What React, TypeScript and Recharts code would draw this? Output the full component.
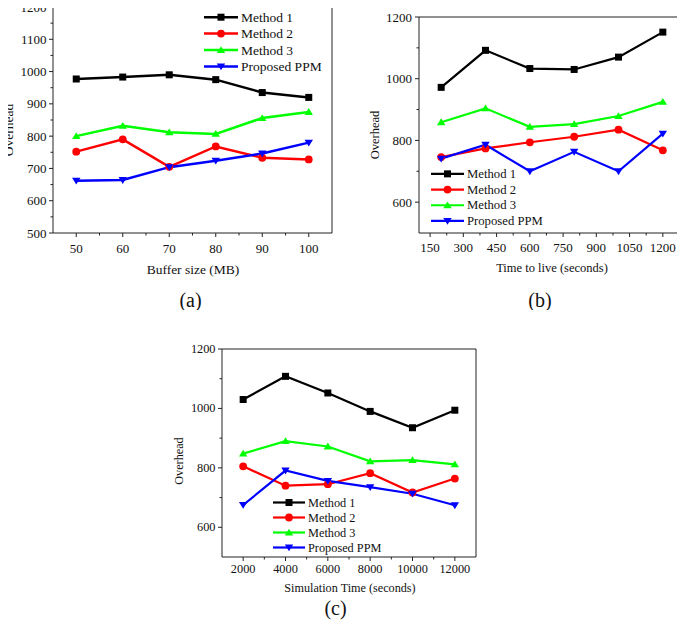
import React from "react";
import { LineChart, Line, XAxis, YAxis, Legend, ReferenceLine } from "recharts";

const FONT = "'Liberation Serif', 'Times New Roman', Times, serif";
const TXT = { fontFamily: FONT };

// shared series info
const seriesNames = ["Method 1", "Method 2", "Method 3", "Proposed PPM"];
const seriesKeys = ["m1", "m2", "m3", "ppm"];
const seriesColors = ["#000000", "#ff0000", "#00ff00", "#0000ff"];
const seriesShapes = ["square", "circle", "up", "down"];

// (a) buffer size
const bufferSizes = [50, 60, 70, 80, 90, 100];
const bufM1 = [977, 983, 990, 975, 935, 920];
const bufM2 = [752, 790, 705, 768, 733, 728];
const bufM3 = [800, 832, 812, 807, 856, 875];
const bufPPM = [662, 664, 704, 724, 746, 780];
const bufXMajor = [50, 60, 70, 80, 90, 100];
const bufXMinor = [55, 65, 75, 85, 95];
const bufYMajor = [500, 600, 700, 800, 900, 1000, 1100, 1200];
const bufYMinor = [550, 650, 750, 850, 950, 1050, 1150];

// (b) time to live
const ttlValues = [200, 400, 600, 800, 1000, 1200];
const ttlM1 = [972, 1092, 1033, 1030, 1070, 1151];
const ttlM2 = [746, 774, 794, 812, 835, 768];
const ttlM3 = [859, 904, 844, 853, 879, 925];
const ttlPPM = [741, 786, 700, 763, 700, 822];
const ttlXMajor = [150, 300, 450, 600, 750, 900, 1050, 1200];
const ttlXMinor = [225, 375, 525, 675, 825, 975, 1125, 1275];
const ttlYMajor = [600, 800, 1000, 1200];
const ttlYMinor = [700, 900, 1100];

// (c) simulation time
const simTimes = [2000, 4000, 6000, 8000, 10000, 12000];
const simM1 = [1030, 1108, 1052, 990, 935, 994];
const simM2 = [805, 740, 745, 782, 717, 764];
const simM3 = [848, 890, 872, 822, 826, 812];
const simPPM = [675, 791, 756, 735, 713, 674];
const simXMajor = [2000, 4000, 6000, 8000, 10000, 12000];
const simXMinor = [3000, 5000, 7000, 9000, 11000];
const simYMajor = [600, 800, 1000, 1200];
const simYMinor = [700, 900, 1100];

const AXIS_W = 40;
const AXIS_H = 30;

function Marker({ cx, cy, shape, color, size }: any) {
  const h = size / 2;
  if (shape === "square") return <rect x={cx - h} y={cy - h} width={size} height={size} fill={color} />;
  if (shape === "circle") return <circle cx={cx} cy={cy} r={h + 0.4} fill={color} />;
  const w = h * 1.2;
  if (shape === "up")
    return <polygon points={`${cx},${cy - h * 1.1} ${cx + w},${cy + h * 0.85} ${cx - w},${cy + h * 0.85}`} fill={color} />;
  return <polygon points={`${cx},${cy + h * 1.1} ${cx + w},${cy - h * 0.85} ${cx - w},${cy - h * 0.85}`} fill={color} />;
}

function Panel({ p }: { p: any }) {
  const data = p.xs.map((x: number, i: number) => ({
    x,
    m1: p.values[0][i],
    m2: p.values[1][i],
    m3: p.values[2][i],
    ppm: p.values[3][i],
  }));
  const xTicks = [...p.xMajor, ...p.xMinor].sort((a, b) => a - b);
  const yTicks = [...p.yMajor, ...p.yMinor].sort((a, b) => a - b);
  const pl = p.plot; // plot box offsets inside the chart
  const margin = { top: pl.top, right: pl.right, bottom: pl.bottom - AXIS_H, left: pl.left - AXIS_W };
  const plotBottom = p.pos.height - pl.bottom;

  const xTick = (t: any) => {
    const major = p.xMajor.includes(t.payload.value);
    const x = t.payload.coordinate ?? t.x;
    return (
      <g key={`xt-${t.payload.value}`}>
        <line x1={x} x2={x} y1={plotBottom} y2={plotBottom + (major ? 4 : 2.5)} stroke="#222" strokeWidth={1} />
        {major && (
          <text x={x} y={plotBottom + p.xTickGap} textAnchor="middle" dominantBaseline="central"
            fontSize={p.tickFont} style={TXT} fill="#111">
            {t.payload.value}
          </text>
        )}
      </g>
    );
  };
  const yTick = (t: any) => {
    const major = p.yMajor.includes(t.payload.value);
    const y = t.payload.coordinate ?? t.y;
    return (
      <g key={`yt-${t.payload.value}`}>
        <line x1={pl.left} x2={pl.left - (major ? 4 : 2.5)} y1={y} y2={y} stroke="#222" strokeWidth={1} />
        {major && (
          <text x={pl.left - p.yTickGap} y={y} textAnchor="end" dominantBaseline="central"
            fontSize={p.tickFont} style={TXT} fill="#111">
            {t.payload.value}
          </text>
        )}
      </g>
    );
  };

  const xTitle = () => (
    <g>
      <text x={p.xTitleX} y={plotBottom + p.xTitleGap} textAnchor="middle" dominantBaseline="central"
        fontSize={p.titleFont} style={TXT} fill="#111">
        {p.xTitle}
      </text>
      <text x={p.captionX} y={p.captionY} textAnchor="middle" dominantBaseline="central"
        fontSize={20} style={TXT} fill="#111">
        {p.caption}
      </text>
    </g>
  );
  const yTitle = () => (
    <text x={p.yTitleX} y={p.yTitleY} textAnchor="middle" dominantBaseline="central"
      transform={`rotate(-90 ${p.yTitleX} ${p.yTitleY})`}
      fontSize={p.titleFont} style={TXT} fill="#111">
      Overhead
    </text>
  );

  const legendContent = (props: any) => {
    const items = props.payload || [];
    const lg = p.legend;
    return (
      <svg width={170} height={lg.rowH * 4} style={{ display: "block" }}>
        {items.map((it: any, i: number) => {
          const k = seriesKeys.indexOf(it.dataKey);
          const cy = lg.rowH * (i + 0.5);
          return (
            <g key={it.value}>
              <line x1={0} x2={lg.lineW} y1={cy} y2={cy} stroke={it.color} strokeWidth={p.strokeWidth} />
              <Marker cx={lg.lineW / 2} cy={cy} shape={seriesShapes[k]} color={it.color} size={7} />
              <text x={lg.lineW + 3} y={cy} dominantBaseline="central" fontSize={p.legendFont}
                style={TXT} fill="#111">
                {it.value}
              </text>
            </g>
          );
        })}
      </svg>
    );
  };

  return (
    <div style={{ position: "absolute", left: p.pos.left, top: p.pos.top }}>
      <LineChart width={p.pos.width} height={p.pos.height} data={data} margin={margin}>
        <XAxis dataKey="x" type="number" domain={p.xDomain} ticks={xTicks} interval={0}
          height={AXIS_H} tickSize={0} tickMargin={0} tickLine={false}
          axisLine={{ stroke: "#222", strokeWidth: 1 }} tick={xTick} label={xTitle} />
        <YAxis type="number" domain={p.yDomain} ticks={yTicks} interval={0}
          width={AXIS_W} tickSize={0} tickMargin={0} tickLine={false}
          axisLine={{ stroke: "#222", strokeWidth: 1 }} tick={yTick} label={yTitle} />
        <ReferenceLine y={p.yDomain[1]} stroke="#222" strokeWidth={1} ifOverflow="visible" />
        <ReferenceLine x={p.xDomain[1]} stroke="#222" strokeWidth={1} ifOverflow="visible" />
        <Legend layout="vertical" align="center" verticalAlign="middle" content={legendContent}
          wrapperStyle={{ left: p.legend.left, top: p.legend.top, width: 170 }} />
        {seriesKeys.map((k, i) => (
          <Line key={k} dataKey={k} name={seriesNames[i]} stroke={seriesColors[i]}
            strokeWidth={p.strokeWidth} isAnimationActive={false} activeDot={false}
            dot={(d: any) => (
              <Marker key={`${k}-${d.index}`} cx={d.cx} cy={d.cy} shape={seriesShapes[i]}
                color={seriesColors[i]} size={7} />
            )} />
        ))}
      </LineChart>
    </div>
  );
}

const panelA = {
  pos: { left: 0, top: 0, width: 345, height: 310 },
  plot: { top: 7, right: 13, bottom: 77, left: 53 },
  xs: bufferSizes,
  values: [bufM1, bufM2, bufM3, bufPPM],
  xDomain: [45, 105], xMajor: bufXMajor, xMinor: bufXMinor,
  yDomain: [500, 1200], yMajor: bufYMajor, yMinor: bufYMinor,
  xTitle: "Buffer size (MB)", caption: "(a)",
  tickFont: 13, titleFont: 13.5, legendFont: 13.5,
  xTickGap: 15, yTickGap: 6.5, xTitleGap: 36, xTitleX: 193,
  yTitleX: 8, yTitleY: 130, captionX: 190.5, captionY: 300,
  legend: { left: 204, top: 8.8, rowH: 16.4, lineW: 34 },
  strokeWidth: 2.5,
};

const panelB = {
  pos: { left: 345, top: 0, width: 345, height: 310 },
  plot: { top: 17, right: 5, bottom: 77, left: 74 },
  xs: ttlValues,
  values: [ttlM1, ttlM2, ttlM3, ttlPPM],
  xDomain: [100, 1300], xMajor: ttlXMajor, xMinor: ttlXMinor,
  yDomain: [500, 1200], yMajor: ttlYMajor, yMinor: ttlYMinor,
  xTitle: "Time to live (seconds)", caption: "(b)",
  tickFont: 13, titleFont: 12.5, legendFont: 12.7,
  xTickGap: 14, yTickGap: 7, xTitleGap: 35, xTitleX: 207,
  yTitleX: 30, yTitleY: 135, captionX: 195, captionY: 300,
  legend: { left: 86, top: 166, rowH: 15.7, lineW: 33 },
  strokeWidth: 2.2,
};

const panelC = {
  pos: { left: 160, top: 330, width: 340, height: 299 },
  plot: { top: 19, right: 24, bottom: 72, left: 62 },
  xs: simTimes,
  values: [simM1, simM2, simM3, simPPM],
  xDomain: [1000, 13000], xMajor: simXMajor, xMinor: simXMinor,
  yDomain: [500, 1200], yMajor: simYMajor, yMinor: simYMinor,
  xTitle: "Simulation Time (seconds)", caption: "(c)",
  tickFont: 12.3, titleFont: 12.2, legendFont: 12.3,
  xTickGap: 12, yTickGap: 6.5, xTitleGap: 31, xTitleX: 190,
  yTitleX: 19, yTitleY: 131, captionX: 175.5, captionY: 277.5,
  legend: { left: 113, top: 164.5, rowH: 15, lineW: 32 },
  strokeWidth: 2.2,
};

export default function App() {
  return (
    <div style={{ position: "relative", width: 685, height: 629, margin: -8, overflow: "hidden", background: "#fff", fontFamily: FONT }}>
      <Panel p={panelA} />
      <Panel p={panelB} />
      <Panel p={panelC} />
    </div>
  );
}
